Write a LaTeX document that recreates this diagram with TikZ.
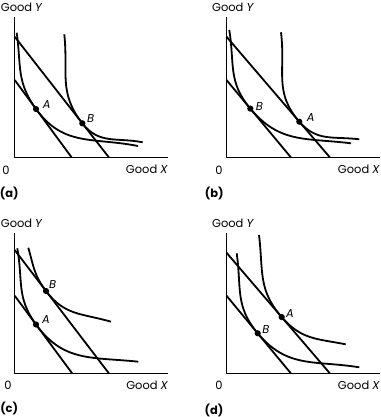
\documentclass[tikz,border=0pt]{standalone}
\usepackage{fontspec}
\setmainfont{Poppins}
\usepackage{tikz}
\tikzset{
  axisline/.style={line width=0.9bp},
  budget/.style={line width=1.8bp},
  indiff/.style={line width=1.8bp},
  dotpt/.style={circle, fill, inner sep=0pt, minimum size=6.2bp},
  axlabel/.style={font=\fontsize{11.5}{13}\selectfont, inner sep=0pt},
  ptlabel/.style={font=\fontsize{11.5}{13}\selectfont\itshape, inner sep=0pt},
  panellabel/.style={font=\fontsize{11.5}{13}\selectfont\bfseries, inner sep=0pt}
}

\begin{document}
\begin{tikzpicture}[x=1bp,y=1bp]
  \useasboundingbox (0,0) rectangle (381,417);

  % Panel (a)
  \begin{scope}[shift={(14.7,259.5)}]
    % Axes and labels
    \draw[axisline] (0,140.5) -- (0,0) -- (153.3,0);
    \node[axlabel] (a-y) at (7,150) {Good \textit{Y}};
    \node[axlabel] (a-o) at (-8.7,-12.5) {0};
    \node[axlabel, anchor=east] (a-x) at (153.3,-12) {Good \textit{X}};
    \node[panellabel] (a-tag) at (-5.5,-35.5) {(a)};
    % Budget lines
    \draw[budget] (0,120.8) -- (94.3,0);
    \draw[budget] (0,77.5) -- (57,0);
    % Indifference curves
    \coordinate (a-A) at (21.3,48.5);
    \coordinate (a-B) at (67.6,34.2);
    \draw[indiff] (2,124.8) to[out=-82,in=126,looseness=1.1] (a-A) to[out=-54,in=169,looseness=1.1] (123.3,11.5);
    \draw[indiff] (49.6,123.2) to[out=-84,in=128,looseness=1.1] (a-B) to[out=-52,in=169,looseness=1.1] (128,15.2);
    % Points
    \node[dotpt] (a-Adot) at (a-A) {};
    \node[dotpt] (a-Bdot) at (a-B) {};
    \node[ptlabel] (a-Alab) at (32,52.5) {A};
    \node[ptlabel] (a-Blab) at (76,39.2) {B};
  \end{scope}

  % Panel (b)
  \begin{scope}[shift={(226.5,259.5)}]
    % Axes and labels
    \draw[axisline] (0,140.5) -- (0,0) -- (153.5,0);
    \node[axlabel] (b-y) at (6.5,150) {Good \textit{Y}};
    \node[axlabel] (b-o) at (-7.5,-12.5) {0};
    \node[axlabel, anchor=east] (b-x) at (153.5,-12) {Good \textit{X}};
    \node[panellabel] (b-tag) at (-12.3,-35.8) {(b)};
    % Budget lines
    \draw[budget] (0,120.8) -- (103.5,0);
    \draw[budget] (0,77.5) -- (64.5,0);
    % Indifference curves
    \coordinate (b-B) at (23.8,48.9);
    \coordinate (b-A) at (72.8,35.8);
    \draw[indiff] (2.8,127.5) to[out=-81,in=130,looseness=1.1] (b-B) to[out=-50,in=173,looseness=1.1] (124.5,14.2);
    \draw[indiff] (54.5,125.2) to[out=-83,in=131,looseness=1.1] (b-A) to[out=-49,in=173,looseness=1.1] (132.8,18.2);
    % Points
    \node[dotpt] (b-Bdot) at (b-B) {};
    \node[dotpt] (b-Adot) at (b-A) {};
    \node[ptlabel] (b-Blab) at (32.8,51.2) {B};
    \node[ptlabel] (b-Alab) at (84.2,39.5) {A};
  \end{scope}

  % Panel (c)
  \begin{scope}[shift={(14.7,43.5)}]
    % Axes and labels
    \draw[axisline] (0,140.2) -- (0,0) -- (153.6,0);
    \node[axlabel] (c-y) at (7,150.2) {Good \textit{Y}};
    \node[axlabel] (c-o) at (-6.7,-11.5) {0};
    \node[axlabel, anchor=east] (c-x) at (153.6,-11.5) {Good \textit{X}};
    \node[panellabel] (c-tag) at (-5.5,-34.8) {(c)};
    % Budget lines
    \draw[budget] (0,123.5) -- (94.3,0);
    \draw[budget] (0,77.8) -- (57.6,0);
    % Indifference curves
    \coordinate (c-A) at (21.3,49.0);
    \coordinate (c-B) at (31.3,82.5);
    \draw[indiff] (2.6,125.2) to[out=-80,in=126,looseness=1.1] (c-A) to[out=-54,in=174,looseness=1.1] (123.6,11.8);
    \draw[indiff] (13.6,125.8) to[out=-74,in=127,looseness=1.1] (c-B) to[out=-53,in=164,looseness=1.1] (96.3,51.8);
    % Points
    \node[dotpt] (c-Adot) at (c-A) {};
    \node[dotpt] (c-Bdot) at (c-B) {};
    \node[ptlabel] (c-Blab) at (38,88.5) {B};
    \node[ptlabel] (c-Alab) at (31.3,53.5) {A};
  \end{scope}

  % Panel (d)
  \begin{scope}[shift={(226.5,43.5)}]
    % Axes and labels
    \draw[axisline] (0,140.2) -- (0,0) -- (153.5,0);
    \node[axlabel] (d-y) at (6.5,150.2) {Good \textit{Y}};
    \node[axlabel] (d-o) at (-7.5,-11.5) {0};
    \node[axlabel, anchor=east] (d-x) at (153.5,-11.5) {Good \textit{X}};
    \node[panellabel] (d-tag) at (-12.5,-36.5) {(d)};
    % Budget lines
    \draw[budget] (0,120.8) -- (103.5,0);
    \draw[budget] (0,77.8) -- (64.5,0);
    % Indifference curves
    \coordinate (d-B) at (31.2,40.2);
    \coordinate (d-A) at (55.2,56.4);
    \draw[indiff] (10.2,120.2) to[out=-82,in=130,looseness=1.1] (d-B) to[out=-50,in=171,looseness=1.1] (132.8,6.2);
    \draw[indiff] (32.5,138.5) to[out=-83,in=131,looseness=1.1] (d-A) to[out=-49,in=169,looseness=1.1] (119.2,29.2);
    % Points
    \node[dotpt] (d-Bdot) at (d-B) {};
    \node[dotpt] (d-Adot) at (d-A) {};
    \node[ptlabel] (d-Alab) at (63.5,60.2) {A};
    \node[ptlabel] (d-Blab) at (39.5,43.5) {B};
  \end{scope}
\end{tikzpicture}
\end{document}
